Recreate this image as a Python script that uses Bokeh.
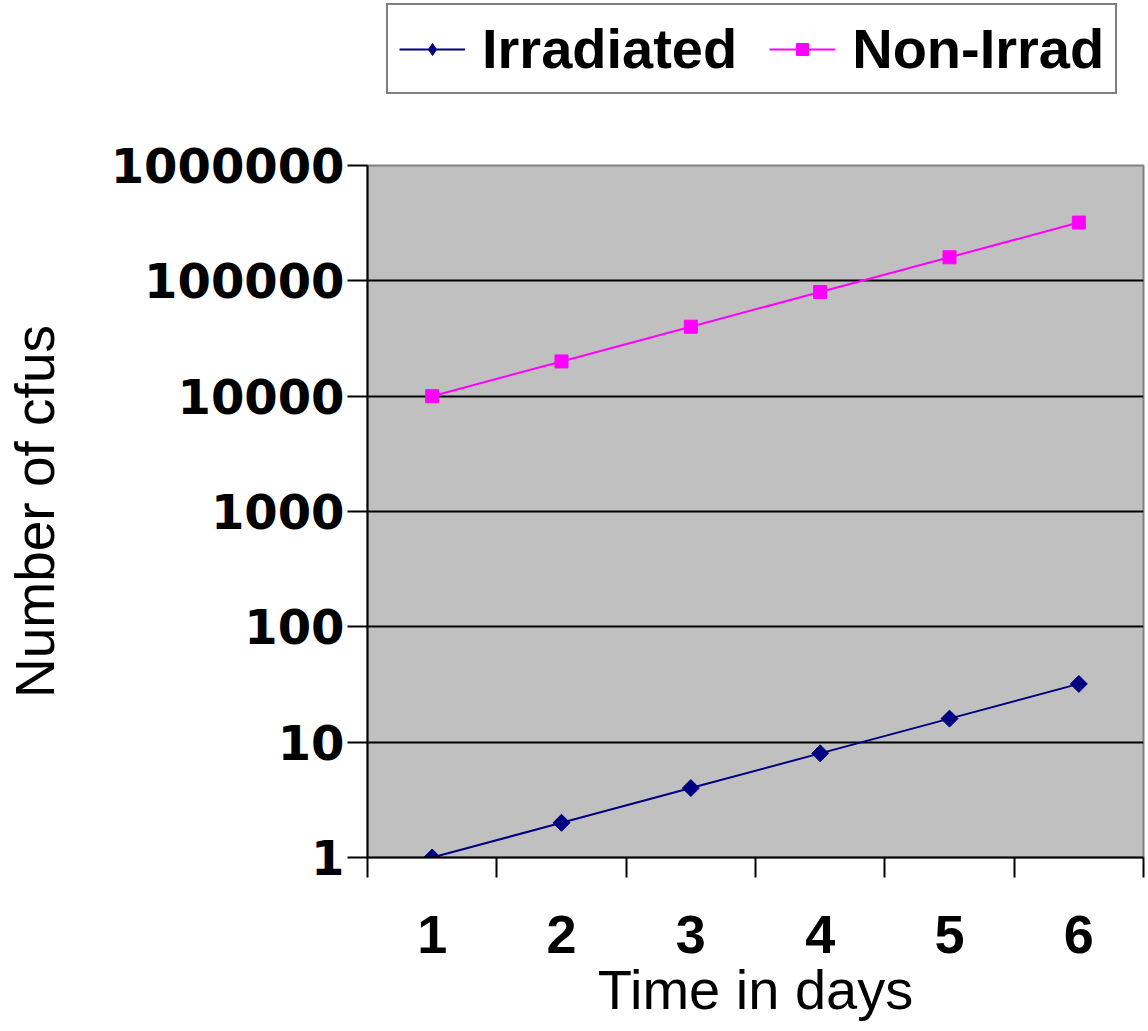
import math
from bokeh.plotting import figure
from bokeh.layouts import column
from bokeh.models import (ColumnDataSource, FixedTicker, LinearAxis, Legend, LegendItem, Range1d)
from bokeh.embed import file_html
from bokeh.resources import INLINE

days = [1, 2, 3, 4, 5, 6]
irradiated = [1, 2, 4, 8, 16, 32]
non_irrad = [10000, 20000, 40000, 80000, 160000, 320000]
y_ticks = [1, 10, 100, 1000, 10000, 100000, 1000000]
y_tick_labels = ["1", "10", "100", "1000", "10000", "100000", "1000000"]
x_bounds = [0.5, 1.5, 2.5, 3.5, 4.5, 5.5, 6.5]
series_names = ["Irradiated", "Non-Irrad"]
series_colors = ["#000080", "#FF00FF"]

src = ColumnDataSource(dict(day=days, irr=irradiated, non=non_irrad))
nan = float("nan")

W = 1145
LH = 100          # legend strip height
H = 1025 - LH     # main plot height
FRAME_TOP = 165 - LH
FRAME_BOTTOM = 857 - LH

# ---------------- legend strip ----------------
lp = figure(width=W, height=LH, output_backend="svg", toolbar_location=None,
            x_range=Range1d(0, 1), y_range=Range1d(0, 1),
            min_border_left=367, min_border_right=2,
            min_border_top=0, min_border_bottom=0)
lp.axis.visible = False
lp.grid.visible = False
lp.outline_line_color = None
lp.background_fill_color = "white"
lp.border_fill_color = "white"

dl1 = lp.line(x=[nan], y=[nan], line_color=series_colors[0], line_width=2)
ds1 = lp.scatter(x=[nan], y=[nan], marker="diamond", size=19,
                 fill_color=series_colors[0], line_color=series_colors[0])
dl2 = lp.line(x=[nan], y=[nan], line_color=series_colors[1], line_width=2)
ds2 = lp.scatter(x=[nan], y=[nan], marker="square", size=13,
                 fill_color=series_colors[1], line_color=series_colors[1])

legend = Legend(items=[LegendItem(label=series_names[0], renderers=[dl1, ds1]),
                       LegendItem(label=series_names[1], renderers=[dl2, ds2])],
                orientation="horizontal", location=(19, 6))
legend.label_text_font = "Liberation Sans"
legend.label_text_font_style = "bold"
legend.label_text_font_size = "56px"
legend.label_text_color = "black"
legend.glyph_width = 66
legend.glyph_height = 30
legend.label_standoff = 17
legend.spacing = 32
legend.padding = 11
legend.margin = 0
legend.border_line_color = "black"
legend.border_line_width = 2.5
legend.background_fill_color = "white"
legend.background_fill_alpha = 1
lp.add_layout(legend, "center")

# ---------------- main plot ----------------
p = figure(width=W, height=H, output_backend="svg", toolbar_location=None,
           y_axis_type="log", x_range=Range1d(0.5, 6.5), y_range=Range1d(1, 1e6),
           x_axis_location=None, min_border_left=367, min_border_right=2,
           min_border_top=FRAME_TOP, min_border_bottom=H - FRAME_BOTTOM)
p.background_fill_color = "#C0C0C0"
p.border_fill_color = "white"
p.outline_line_color = "#808080"
p.outline_line_width = 2

ya = p.yaxis[0]
ya.ticker = FixedTicker(ticks=y_ticks, minor_ticks=[])
ya.major_label_overrides = {t: l for t, l in zip(y_ticks, y_tick_labels)}
ya.major_label_text_font = "DejaVu Sans"
ya.major_label_text_font_style = "bold"
ya.major_label_text_font_size = "48px"
ya.major_label_text_color = "black"
ya.major_label_standoff = 3
ya.major_tick_out = 20
ya.major_tick_in = 0
ya.major_tick_line_width = 2
ya.major_tick_line_color = "black"
ya.minor_tick_line_color = None
ya.axis_line_width = 2
ya.axis_line_color = "black"
ya.axis_label = "Number of cfus"
ya.axis_label_text_font = "Liberation Sans"
ya.axis_label_text_font_style = "normal"
ya.axis_label_text_font_size = "55px"
ya.axis_label_text_color = "black"
ya.axis_label_standoff = 42

xa1 = LinearAxis(ticker=FixedTicker(ticks=x_bounds, minor_ticks=[]))
xa1.major_label_text_font_size = "0px"
xa1.major_label_overrides = {t: "" for t in x_bounds}
xa1.major_tick_out = 20
xa1.major_tick_in = 0
xa1.major_tick_line_width = 2
xa1.major_tick_line_color = "black"
xa1.minor_tick_line_color = None
xa1.axis_line_width = 2
xa1.axis_line_color = "black"
xa1.major_label_standoff = 0
p.add_layout(xa1, "below")

xa2 = LinearAxis(ticker=FixedTicker(ticks=days, minor_ticks=[]))
xa2.major_label_overrides = {d: str(d) for d in days}
xa2.major_tick_line_color = None
xa2.minor_tick_line_color = None
xa2.axis_line_color = None
xa2.major_label_text_font = "Liberation Sans"
xa2.major_label_text_font_style = "bold"
xa2.major_label_text_font_size = "54px"
xa2.major_label_text_color = "black"
xa2.major_label_standoff = 32
xa2.axis_label = "Time in days"
xa2.axis_label_text_font = "Liberation Sans"
xa2.axis_label_text_font_style = "normal"
xa2.axis_label_text_font_size = "56px"
xa2.axis_label_text_color = "black"
xa2.axis_label_standoff = 2
p.add_layout(xa2, "below")

p.xgrid.grid_line_color = None
p.ygrid.grid_line_color = "black"
p.ygrid.grid_line_width = 2
p.ygrid.ticker = FixedTicker(ticks=y_ticks, minor_ticks=[])

p.line("day", "irr", source=src, line_color=series_colors[0], line_width=2)
p.scatter("day", "irr", source=src, marker="square", angle=math.pi / 4, size=12,
          fill_color=series_colors[0], line_color=series_colors[0])
p.line("day", "non", source=src, line_color=series_colors[1], line_width=2)
p.scatter("day", "non", source=src, marker="square", size=13,
          fill_color=series_colors[1], line_color=series_colors[1])

layout = column(lp, p, spacing=0)
open("out.html", "w").write(file_html(layout, INLINE))
